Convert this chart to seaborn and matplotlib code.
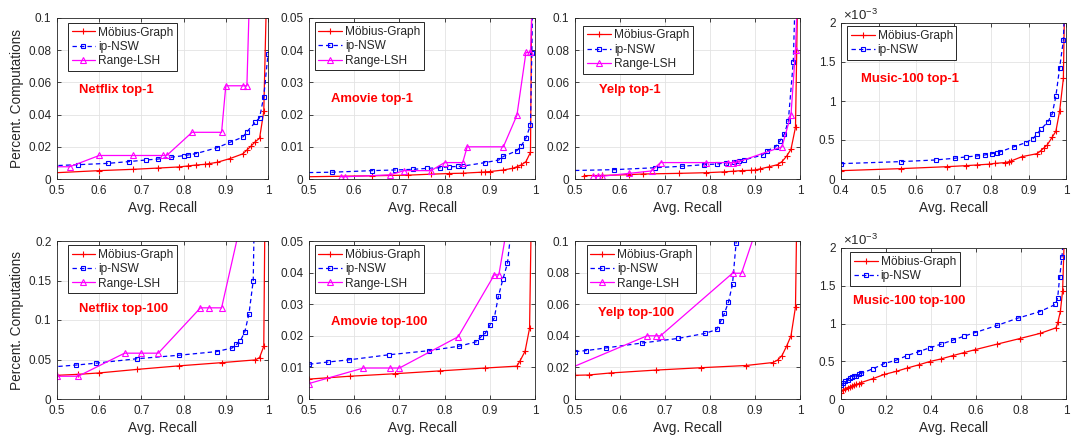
import numpy as np
import pandas as pd
import matplotlib
matplotlib.use("Agg")
import matplotlib.pyplot as plt
import seaborn as sns
from matplotlib.ticker import FuncFormatter, MultipleLocator

# ---------------- data: (recall, fraction of computations) ----------------
# Netflix top-1
nf1_mob_x = [0.45, 0.60, 0.68, 0.74, 0.79, 0.81, 0.83, 0.85, 0.86, 0.88, 0.91, 0.94, 0.95, 0.96, 0.97, 0.98, 0.99, 0.997]
nf1_mob_y = [0.0033, 0.0052, 0.0060, 0.0068, 0.0075, 0.0081, 0.0087, 0.0091, 0.0095, 0.0104, 0.0127, 0.0156, 0.0180, 0.0205, 0.0232, 0.0253, 0.0420, 0.1200]
nf1_nsw_x = [0.45, 0.55, 0.62, 0.67, 0.71, 0.74, 0.77, 0.80, 0.81, 0.83, 0.88, 0.91, 0.94, 0.95, 0.97, 0.98, 0.99, 1.00]
nf1_nsw_y = [0.0078, 0.0089, 0.0097, 0.0108, 0.0118, 0.0124, 0.0135, 0.0145, 0.0149, 0.0158, 0.0195, 0.0228, 0.0260, 0.0293, 0.0353, 0.0380, 0.0512, 0.0776]
nf1_lsh_x = [0.45, 0.53, 0.60, 0.68, 0.75, 0.76, 0.82, 0.89, 0.90, 0.94, 0.95, 0.96]
nf1_lsh_y = [0.0076, 0.0076, 0.0146, 0.0146, 0.0146, 0.0146, 0.0290, 0.0290, 0.0579, 0.0579, 0.0579, 0.1500]

# Amovie top-1
am1_mob_x = [0.45, 0.64, 0.72, 0.77, 0.81, 0.84, 0.88, 0.89, 0.90, 0.93, 0.95, 0.96, 0.97, 0.98, 0.99, 0.993]
am1_mob_y = [0.0006, 0.0010, 0.0012, 0.0015, 0.0017, 0.0018, 0.0021, 0.0022, 0.0023, 0.0028, 0.0033, 0.0038, 0.0044, 0.0054, 0.0083, 0.0600]
am1_nsw_x = [0.45, 0.55, 0.64, 0.69, 0.73, 0.76, 0.79, 0.81, 0.83, 0.84, 0.89, 0.92, 0.93, 0.96, 0.97, 0.98, 0.99, 0.993, 0.995]
am1_nsw_y = [0.0019, 0.0021, 0.0026, 0.0028, 0.0030, 0.0033, 0.0035, 0.0038, 0.0039, 0.0040, 0.0051, 0.0059, 0.0070, 0.0088, 0.0104, 0.0127, 0.0168, 0.0390, 0.0600]
am1_lsh_x = [0.57, 0.58, 0.68, 0.71, 0.77, 0.80, 0.84, 0.85, 0.93, 0.96, 0.98, 0.99, 0.995]
am1_lsh_y = [0.0007, 0.0007, 0.0013, 0.0026, 0.0026, 0.0051, 0.0051, 0.0100, 0.0100, 0.0198, 0.0393, 0.0393, 0.0600]

# Yelp top-1
yp1_mob_x = [0.52, 0.56, 0.62, 0.65, 0.73, 0.79, 0.83, 0.85, 0.87, 0.89, 0.90, 0.91, 0.93, 0.95, 0.96, 0.97, 0.98, 0.99, 0.995]
yp1_mob_y = [0.0021, 0.0022, 0.0027, 0.0031, 0.0035, 0.0039, 0.0044, 0.0048, 0.0052, 0.0054, 0.0056, 0.0062, 0.0075, 0.0089, 0.0108, 0.0141, 0.0185, 0.0322, 0.1200]
yp1_nsw_x = [0.45, 0.587, 0.678, 0.737, 0.787, 0.815, 0.835, 0.853, 0.865, 0.875, 0.917, 0.926, 0.946, 0.956, 0.965, 0.974, 0.985, 0.990]
yp1_nsw_y = [0.0050, 0.0058, 0.0070, 0.0079, 0.0089, 0.0093, 0.0100, 0.0106, 0.0112, 0.0118, 0.0149, 0.0174, 0.0200, 0.0239, 0.0278, 0.0360, 0.0726, 0.1200]
yp1_lsh_x = [0.54, 0.55, 0.56, 0.62, 0.67, 0.69, 0.79, 0.84, 0.85, 0.86, 0.96, 0.98, 0.99, 0.995]
yp1_lsh_y = [0.0017, 0.0017, 0.0017, 0.0035, 0.0050, 0.0102, 0.0102, 0.0102, 0.0102, 0.0104, 0.0200, 0.0400, 0.0800, 0.1200]

# Music-100 top-1 (values in units of 1e-3)
mu1_mob_x = [0.40, 0.56, 0.683, 0.733, 0.763, 0.794, 0.81, 0.836, 0.847, 0.853, 0.883, 0.923, 0.933, 0.94, 0.95, 0.963, 0.973, 0.983, 0.993, 0.996]
mu1_mob_y = [0.107, 0.133, 0.158, 0.171, 0.180, 0.190, 0.200, 0.210, 0.220, 0.230, 0.287, 0.325, 0.364, 0.394, 0.437, 0.535, 0.612, 0.869, 1.289, 2.2]
mu1_nsw_x = [0.40, 0.56, 0.652, 0.703, 0.733, 0.763, 0.783, 0.803, 0.815, 0.823, 0.86, 0.893, 0.912, 0.923, 0.933, 0.951, 0.963, 0.973, 0.983, 0.993, 0.996]
mu1_nsw_y = [0.197, 0.223, 0.244, 0.266, 0.283, 0.296, 0.308, 0.325, 0.338, 0.347, 0.411, 0.467, 0.518, 0.578, 0.638, 0.728, 0.831, 1.062, 1.426, 1.777, 2.2]

# Netflix top-100
nf100_mob_x = [0.50, 0.55, 0.60, 0.69, 0.79, 0.89, 0.97, 0.98, 0.99, 0.993]
nf100_mob_y = [0.0300, 0.0312, 0.0330, 0.0375, 0.0420, 0.0460, 0.0495, 0.0525, 0.0667, 0.2500]
nf100_nsw_x = [0.45, 0.546, 0.593, 0.69, 0.789, 0.878, 0.915, 0.925, 0.934, 0.945, 0.955, 0.965, 0.968]
nf100_nsw_y = [0.0390, 0.0430, 0.0454, 0.0510, 0.0554, 0.0600, 0.0646, 0.0690, 0.0730, 0.0850, 0.1080, 0.1500, 0.2500]
nf100_lsh_x = [0.50, 0.55, 0.66, 0.70, 0.74, 0.84, 0.86, 0.89, 0.93]
nf100_lsh_y = [0.0288, 0.0288, 0.0580, 0.0580, 0.0580, 0.1154, 0.1154, 0.1154, 0.2100]

# Amovie top-100
am100_mob_x = [0.50, 0.54, 0.59, 0.69, 0.79, 0.89, 0.96, 0.967, 0.978, 0.988, 0.992]
am100_mob_y = [0.0063, 0.0067, 0.0072, 0.0080, 0.0089, 0.0098, 0.0104, 0.0121, 0.0151, 0.0224, 0.0600]
am100_nsw_x = [0.50, 0.542, 0.589, 0.677, 0.766, 0.832, 0.87, 0.88, 0.89, 0.90, 0.91, 0.919, 0.929, 0.939, 0.946]
am100_nsw_y = [0.0110, 0.0117, 0.0124, 0.0140, 0.0153, 0.0167, 0.0181, 0.0196, 0.0208, 0.0233, 0.0257, 0.0325, 0.0379, 0.0429, 0.0520]
am100_lsh_x = [0.50, 0.62, 0.68, 0.70, 0.83, 0.91, 0.92, 0.94]
am100_lsh_y = [0.0049, 0.0098, 0.0098, 0.0098, 0.0197, 0.0393, 0.0393, 0.0560]

# Yelp top-100
yp100_mob_x = [0.50, 0.53, 0.58, 0.68, 0.78, 0.88, 0.94, 0.95, 0.96, 0.97, 0.98, 0.99, 0.993]
yp100_mob_y = [0.0150, 0.0152, 0.0165, 0.0183, 0.0198, 0.0212, 0.0231, 0.0246, 0.0275, 0.0333, 0.0400, 0.0583, 0.1200]
yp100_nsw_x = [0.50, 0.524, 0.568, 0.648, 0.728, 0.789, 0.815, 0.824, 0.832, 0.841, 0.85, 0.858, 0.86]
yp100_nsw_y = [0.0300, 0.0306, 0.0323, 0.0354, 0.0383, 0.0415, 0.0440, 0.0494, 0.0542, 0.0613, 0.0727, 0.0988, 0.1100]
yp100_lsh_x = [0.45, 0.66, 0.68, 0.69, 0.85, 0.87, 0.90]
yp100_lsh_y = [0.0148, 0.0400, 0.0400, 0.0400, 0.0796, 0.0796, 0.1050]

# Music-100 top-100 (values in units of 1e-3)
mu100_mob_x = [0.0, 0.009, 0.019, 0.03, 0.039, 0.049, 0.059, 0.068, 0.079, 0.089, 0.142, 0.193, 0.244, 0.293, 0.345, 0.394, 0.444, 0.496, 0.545, 0.594, 0.693, 0.794, 0.886, 0.956, 0.964, 0.975, 0.985, 0.993]
mu100_mob_y = [0.083, 0.117, 0.139, 0.152, 0.161, 0.174, 0.187, 0.196, 0.204, 0.217, 0.270, 0.326, 0.365, 0.409, 0.452, 0.496, 0.530, 0.574, 0.613, 0.652, 0.726, 0.800, 0.870, 0.943, 1.017, 1.161, 1.435, 2.2]
mu100_nsw_x = [0.0, 0.009, 0.019, 0.03, 0.039, 0.049, 0.059, 0.068, 0.079, 0.089, 0.142, 0.193, 0.244, 0.293, 0.345, 0.394, 0.444, 0.496, 0.545, 0.594, 0.693, 0.785, 0.883, 0.953, 0.963, 0.972, 0.982, 0.990]
mu100_nsw_y = [0.183, 0.209, 0.239, 0.257, 0.274, 0.287, 0.300, 0.309, 0.326, 0.339, 0.400, 0.470, 0.513, 0.574, 0.626, 0.678, 0.726, 0.778, 0.830, 0.878, 0.974, 1.070, 1.157, 1.252, 1.343, 1.617, 1.878, 2.2]

method_names = ["Möbius-Graph", "ip-NSW", "Range-LSH"]
panel_titles = ["Netflix top-1", "Amovie top-1", "Yelp top-1", "Music-100 top-1",
                "Netflix top-100", "Amovie top-100", "Yelp top-100", "Music-100 top-100"]

# ---------------- styling ----------------
sns.set_theme(style="whitegrid")
plt.rcParams['font.family'] = ['Liberation Sans', 'DejaVu Sans']
plt.rcParams['mathtext.fontset'] = 'custom'
plt.rcParams['mathtext.rm'] = 'Liberation Sans'
plt.rcParams['mathtext.it'] = 'Liberation Sans'

INK = '#262626'
RED, BLUE, MAGENTA = '#ff0000', '#0000ff', '#ff00ff'
styles = {
    "Möbius-Graph": dict(color=RED, linestyle='-', marker='+', markersize=4.5,
                         markeredgewidth=0.8, markeredgecolor=RED),
    "ip-NSW": dict(color=BLUE, linestyle=(0, (3.5, 2.5)), marker='s', markersize=3.2,
                   markeredgewidth=0.8, markerfacecolor='none', markeredgecolor=BLUE),
    "Range-LSH": dict(color=MAGENTA, linestyle='-', marker='^', markersize=4.2,
                      markeredgewidth=0.8, markerfacecolor='none', markeredgecolor=MAGENTA),
}

E3 = 1e-3
panels = [
    dict(series=[(nf1_mob_x, nf1_mob_y), (nf1_nsw_x, nf1_nsw_y), (nf1_lsh_x, nf1_lsh_y)],
         xlim=(0.5, 1), xstep=0.1, ylim=(0, 0.1), ystep=0.02, scale=1),
    dict(series=[(am1_mob_x, am1_mob_y), (am1_nsw_x, am1_nsw_y), (am1_lsh_x, am1_lsh_y)],
         xlim=(0.5, 1), xstep=0.1, ylim=(0, 0.05), ystep=0.01, scale=1),
    dict(series=[(yp1_mob_x, yp1_mob_y), (yp1_nsw_x, yp1_nsw_y), (yp1_lsh_x, yp1_lsh_y)],
         xlim=(0.5, 1), xstep=0.1, ylim=(0, 0.1), ystep=0.02, scale=1),
    dict(series=[(mu1_mob_x, mu1_mob_y), (mu1_nsw_x, mu1_nsw_y)],
         xlim=(0.4, 1), xstep=0.1, ylim=(0, 2e-3), ystep=0.5e-3, scale=E3),
    dict(series=[(nf100_mob_x, nf100_mob_y), (nf100_nsw_x, nf100_nsw_y), (nf100_lsh_x, nf100_lsh_y)],
         xlim=(0.5, 1), xstep=0.1, ylim=(0, 0.2), ystep=0.05, scale=1),
    dict(series=[(am100_mob_x, am100_mob_y), (am100_nsw_x, am100_nsw_y), (am100_lsh_x, am100_lsh_y)],
         xlim=(0.5, 1), xstep=0.1, ylim=(0, 0.05), ystep=0.01, scale=1),
    dict(series=[(yp100_mob_x, yp100_mob_y), (yp100_nsw_x, yp100_nsw_y), (yp100_lsh_x, yp100_lsh_y)],
         xlim=(0.5, 1), xstep=0.1, ylim=(0, 0.1), ystep=0.02, scale=1),
    dict(series=[(mu100_mob_x, mu100_mob_y), (mu100_nsw_x, mu100_nsw_y)],
         xlim=(0, 1), xstep=0.2, ylim=(0, 2e-3), ystep=0.5e-3, scale=E3),
]

# axes rectangles in figure pixels: (left, top, right, bottom)
W, H = 1071, 446
boxes = [
    (57, 18, 268, 179), (309, 18, 535, 179), (575, 18, 800, 179), (841, 23, 1066, 179),
    (57, 241, 268, 399), (309, 241, 535, 399), (575, 241, 800, 399), (841, 248, 1066, 399),
]
legend_anchor = [(0.052, 0.969), (0.025, 0.973), (0.037, 0.952), (0.027, 0.979),
                 (0.052, 0.973), (0.025, 0.973), (0.052, 0.973), (0.041, 0.972)]
title_pos = [(0.104, 0.554), (0.099, 0.498), (0.107, 0.554), (0.089, 0.642),
             (0.104, 0.567), (0.099, 0.4875), (0.104, 0.542), (0.053, 0.652)]

fig = plt.figure(figsize=(W / 100, H / 100), dpi=100)
fig.patch.set_facecolor('white')

for i, p in enumerate(panels):
    l, t, r, b = boxes[i]
    ax = fig.add_axes([l / W, 1 - b / H, (r - l) / W, (b - t) / H])
    ax.set_facecolor('white')
    handles = []
    for name, (xs, ys) in zip(method_names, p["series"]):
        df = pd.DataFrame({"recall": xs, "comp": np.asarray(ys) * p["scale"]})
        sns.lineplot(data=df, x="recall", y="comp", ax=ax, sort=False, estimator=None,
                     linewidth=0.9, legend=False, **styles[name])
        handles.append(ax.lines[-1])

    ax.set_xlim(*p["xlim"])
    ax.set_ylim(*p["ylim"])
    ax.xaxis.set_major_locator(MultipleLocator(p["xstep"]))
    ax.yaxis.set_major_locator(MultipleLocator(p["ystep"]))
    ax.xaxis.set_major_formatter(FuncFormatter(lambda v, _: f"{round(v, 6):g}"))
    if p["scale"] == 1:
        ax.yaxis.set_major_formatter(FuncFormatter(lambda v, _: f"{round(v, 6):g}"))
    else:
        ax.yaxis.set_major_formatter(FuncFormatter(lambda v, _: f"{round(v * 1e3, 6):g}"))
        ax.text(0.008, 1.0, r"$\times10^{-3}$", transform=ax.transAxes, ha='left',
                va='bottom', fontsize=9.5, color=INK)

    ax.grid(True, color='#e3e3e3', linewidth=0.6)
    ax.set_axisbelow(True)
    for s in ax.spines.values():
        s.set_color(INK)
        s.set_linewidth(0.6)
        s.set_visible(True)
    ax.tick_params(axis='both', which='major', direction='in', length=3, width=0.6,
                   top=True, right=True, bottom=True, left=True, colors=INK,
                   labelsize=8.5, pad=4)
    ax.set_xlabel("Avg. Recall", fontsize=9.8, color=INK, labelpad=3)
    if i % 4 == 0:
        ax.set_ylabel("Percent. Computations", fontsize=9.8, color=INK, labelpad=3)
    else:
        ax.set_ylabel("")

    leg = ax.legend(handles, method_names[:len(handles)], loc='upper left',
                    bbox_to_anchor=legend_anchor[i], borderaxespad=0, fontsize=8.6,
                    handlelength=2.0, handletextpad=0.25, borderpad=0.3,
                    labelspacing=0.2, fancybox=False, framealpha=1)
    leg.get_frame().set_edgecolor(INK)
    leg.get_frame().set_linewidth(0.7)
    for txt in leg.get_texts():
        txt.set_color(INK)

    ax.text(title_pos[i][0], title_pos[i][1], panel_titles[i], transform=ax.transAxes,
            ha='left', va='center', color=RED, fontsize=9.4, fontweight='bold')

fig.savefig("out.png", dpi=100, facecolor='white')
